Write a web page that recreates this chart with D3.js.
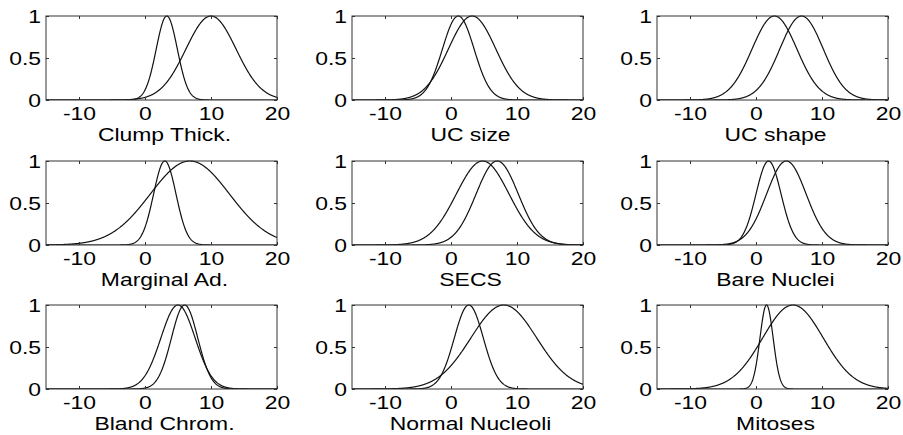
<!DOCTYPE html>
<html>
<head>
<meta charset="utf-8">
<script src="https://cdn.jsdelivr.net/npm/d3@7"></script>
<style>
  body { margin: 0; background: #fff; }
  text { font-family: "Liberation Sans", Arial, sans-serif; fill: #000; }
</style>
</head>
<body>
<script>
var width = 903;
var height = 435;

// one panel per attribute, two gaussian membership functions each
var names = ["Clump Thick.", "UC size", "UC shape",
             "Marginal Ad.", "SECS", "Bare Nuclei",
             "Bland Chrom.", "Normal Nucleoli", "Mitoses"];
var centerA = [3.3, 1.1, 2.8, 3.0, 4.8, 1.9, 5.0, 2.7, 1.6];
var sigmaA  = [1.6, 2.4, 3.4, 1.7, 4.0, 1.9, 2.6, 2.2, 1.0];
var centerB = [10.0, 3.2, 6.9, 6.8, 7.0, 4.6, 6.0, 8.0, 5.6];
var sigmaB  = [3.8, 3.6, 3.3, 6.0, 3.2, 3.0, 2.0, 5.0, 4.6];

var xTicks = [-10, 0, 10, 20];
var yTicks = [0, 0.5, 1];
var yTickLabels = ["0", "0.5", "1"];
var xDomain = [-15, 20];

var colLeft = [46, 352, 657];
var rowTop = [16, 161, 305];
var pw = 231, ph = 84;
var stretch = 1.31; // text in the figure is wider than plain Arial
var fs = 17.5;

var svg = d3.select('body').append('svg').attr('width', width).attr('height', height);

var x = d3.scaleLinear().domain(xDomain).range([0, pw]);
var y = d3.scaleLinear().domain([0, 1]).range([ph, 0]);

var samples = d3.range(xDomain[0], xDomain[1] + 0.001, 0.05);
function gauss(c, s) {
  return samples.map(function (v) { return [v, Math.exp(-(v - c) * (v - c) / (2 * s * s))]; });
}
var line = d3.line().x(function (d) { return x(d[0]); }).y(function (d) { return y(d[1]); });

svg.append("defs").append("clipPath").attr("id", "clip")
  .append("rect").attr("x", 0).attr("y", -1).attr("width", pw).attr("height", ph + 1);

for (var i = 0; i < names.length; i++) {
  var g = svg.append("g")
    .attr("transform", "translate(" + colLeft[i % 3] + "," + rowTop[Math.floor(i / 3)] + ")");

  var plot = g.append("g").attr("clip-path", "url(#clip)");
  [gauss(centerA[i], sigmaA[i]), gauss(centerB[i], sigmaB[i])].forEach(function (pts) {
    plot.append("path").datum(pts)
      .attr("d", line)
      .attr("fill", "none")
      .attr("stroke", "#111")
      .attr("stroke-width", 1.2);
  });

  var axBottom = g.append("g").attr("transform", "translate(0," + ph + ")")
    .call(d3.axisBottom(x).tickValues(xTicks).tickSize(-3).tickPadding(8)
      .tickFormat(function (d) { return d < 0 ? "-" + Math.abs(d) : d; }));
  var axTop = g.append("g")
    .call(d3.axisTop(x).tickValues(xTicks).tickSize(-3).tickFormat(""));
  var axLeft = g.append("g")
    .call(d3.axisLeft(y).tickValues(yTicks).tickSize(-3).tickPadding(5)
      .tickFormat(function (d, k) { return yTickLabels[k]; }));
  var axRight = g.append("g").attr("transform", "translate(" + pw + ",0)")
    .call(d3.axisRight(y).tickValues(yTicks).tickSize(-3).tickFormat(""));

  [axBottom, axTop, axLeft, axRight].forEach(function (a) {
    a.select(".domain").remove();
    a.selectAll(".tick line").attr("stroke", "#333");
  });

  axBottom.selectAll("text").style("font-size", fs + "px").attr("fill", "#000")
    .attr("transform", "scale(" + stretch + ",1)");
  axLeft.selectAll("text").style("font-size", fs + "px").attr("fill", "#000")
    .attr("x", -5 / stretch).attr("dy", "0.36em")
    .attr("transform", "scale(" + stretch + ",1)");

  g.append("rect")
    .attr("x", 0).attr("y", 0).attr("width", pw).attr("height", ph)
    .attr("fill", "none").attr("stroke", "#333").attr("stroke-width", 1);

  g.append("text")
    .attr("transform", "translate(" + (pw / 2 + 3) + "," + (ph + 41) + ") scale(" + stretch + ",1)")
    .attr("text-anchor", "middle")
    .style("font-size", fs + "px")
    .text(names[i]);
}
</script>
</body>
</html>
